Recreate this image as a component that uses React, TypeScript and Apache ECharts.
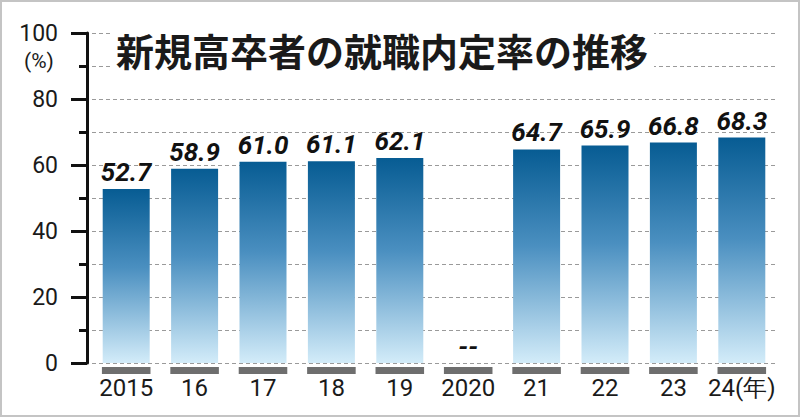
import React, { useEffect, useRef } from "react";
import * as echarts from "echarts";

const categories = ["2015", "16", "17", "18", "19", "2020", "21", "22", "23", "24(年)"];
const rates: (number | null)[] = [52.7, 58.9, 61.0, 61.1, 62.1, null, 64.7, 65.9, 66.8, 68.3];
const yTicks = [0, 20, 40, 60, 80, 100];
const titleText = "新規高卒者の就職内定率の推移";
const unitText = "(%)";

export default function App() {
  const ref = useRef<HTMLDivElement>(null);
  useEffect(() => {
    if (!ref.current) return;
    const chart = echarts.init(ref.current, undefined, { renderer: "svg" });
    const barData = rates.map((v) =>
      v === null ? { value: 0, itemStyle: { color: "rgba(0,0,0,0)" } } : { value: v }
    );
    chart.setOption({
      animation: false,
      backgroundColor: "#ffffff",
      grid: { left: 92, right: 24, top: 33, bottom: 54 },
      xAxis: {
        type: "category",
        data: categories,
        axisLine: { show: false },
        axisTick: { show: false },
        axisLabel: {
          color: "#1a1a1a",
          fontFamily: "Roboto",
          fontSize: 24,
          margin: 13,
          interval: 0,
        },
      },
      yAxis: {
        type: "value",
        min: yTicks[0],
        max: yTicks[yTicks.length - 1],
        interval: 20,
        offset: 5,
        axisLine: { show: true, lineStyle: { color: "#111", width: 3 } },
        axisTick: { show: true, length: 16, lineStyle: { color: "#111", width: 3 } },
        minorTick: { show: true, splitNumber: 2, length: 8, lineStyle: { color: "#111", width: 3 } },
        axisLabel: {
          color: "#1a1a1a",
          fontFamily: "Roboto",
          fontSize: 23,
          margin: 29,
        },
        splitLine: { show: true, lineStyle: { color: "#9a9a9a", type: [4, 3], width: 1 } },
        minorSplitLine: { show: true, lineStyle: { color: "#9a9a9a", type: [4, 3], width: 1 } },
      },
      title: {
        text: titleText,
        left: 110,
        top: 28,
        backgroundColor: "#ffffff",
        padding: [2, 6, 4, 6],
        textStyle: {
          fontFamily: "Noto Sans CJK JP",
          fontWeight: "bold",
          fontSize: 38,
          color: "#1a1a1a",
        },
      },
      graphic: [
        {
          type: "text",
          left: 24,
          top: 50,
          style: { text: unitText, fontFamily: "Roboto", fontSize: 21, fill: "#1a1a1a" },
        },
        {
          type: "rect",
          shape: { x: 1, y: 1, width: 798, height: 415 },
          style: { fill: "none", stroke: "#c4c4c4", lineWidth: 2 },
          silent: true,
          z: 100,
        },
      ],
      series: [
        {
          type: "bar",
          data: barData,
          barWidth: 47,
          itemStyle: {
            color: new echarts.graphic.LinearGradient(0, 0, 0, 1, [
              { offset: 0, color: "#075c93" },
              { offset: 0.45, color: "#4a8fc0" },
              { offset: 1, color: "#d3ecf9" },
            ]),
          },
          label: {
            show: true,
            position: "top",
            distance: 4,
            fontFamily: "Roboto",
            fontStyle: "italic",
            fontWeight: "bold",
            fontSize: 26,
            color: "#111",
            formatter: (p: any) => {
              const raw = rates[p.dataIndex];
              return raw === null ? "--" : raw.toFixed(1);
            },
          },
          z: 3,
        },
        {
          type: "custom",
          data: categories.map((_, i) => [i, 0]),
          clip: false,
          silent: true,
          renderItem: (params: any, api: any) => {
            const p = api.coord([api.value(0), 0]);
            const w = api.size([1, 0])[0] * 0.71;
            return {
              type: "rect",
              shape: { x: p[0] - w / 2, y: p[1] + 4, width: w, height: 7 },
              style: { fill: "#6e6e6e" },
            };
          },
          z: 2,
        },
      ],
    });
    return () => chart.dispose();
  }, []);
  return (
    <div
      ref={ref}
      style={{ position: "fixed", left: 0, top: 0, width: 800, height: 417 }}
    />
  );
}
